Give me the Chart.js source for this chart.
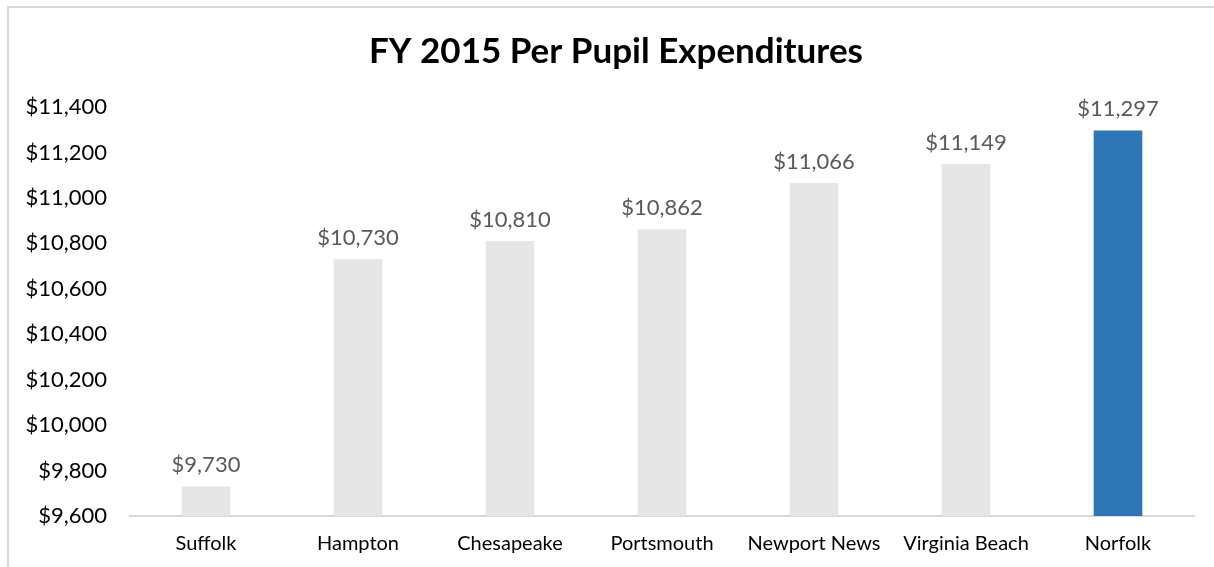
<!DOCTYPE html>
<html>
<head>
<meta charset="utf-8">
<script src="https://cdn.jsdelivr.net/npm/chart.js@4"></script>
<style>
  html, body { margin: 0; padding: 0; background: #fff; }
  #wrap { width: 1214px; height: 567px; }
</style>
</head>
<body>
<div id="wrap"><canvas id="grafico"></canvas></div>
<script>
// dados
var cidades = ['Suffolk', 'Hampton', 'Chesapeake', 'Portsmouth', 'Newport News', 'Virginia Beach', 'Norfolk'];
var gastos = [9730, 10730, 10810, 10862, 11066, 11149, 11297];
var cores = ['#e6e6e6', '#e6e6e6', '#e6e6e6', '#e6e6e6', '#e6e6e6', '#e6e6e6', '#2e75b6'];

function dinheiro(v) {
    return '$' + Number(v).toLocaleString('en-US');
}

// moldura cinza (só topo e esquerda aparecem no recorte)
var moldura = {
    id: 'moldura',
    beforeDraw: function(chart) {
        var ctx = chart.ctx;
        ctx.save();
        ctx.strokeStyle = '#d9d9d9';
        ctx.lineWidth = 2;
        ctx.beginPath();
        ctx.moveTo(8, chart.height);
        ctx.lineTo(8, 7);
        ctx.lineTo(chart.width, 7);
        ctx.stroke();
        ctx.restore();
    },
    // desloca o título um pouco para a direita, como no original
    afterLayout: function(chart) {
        if (chart.titleBlock) {
            chart.titleBlock.left = 38;
            chart.titleBlock.width = chart.titleBlock.right - chart.titleBlock.left;
        }
    }
};

// rótulos de valor acima das barras
var rotulos = {
    id: 'rotulos',
    afterDatasetsDraw: function(chart) {
        var ctx = chart.ctx;
        var meta = chart.getDatasetMeta(0);
        ctx.save();
        ctx.font = '22px Lato';
        ctx.fillStyle = '#595959';
        ctx.textAlign = 'center';
        ctx.textBaseline = 'alphabetic';
        meta.data.forEach(function(barra, i) {
            ctx.fillText(dinheiro(gastos[i]), barra.x, barra.y - 14);
        });
        ctx.restore();
    }
};

new Chart(document.getElementById('grafico').getContext('2d'), {
    type: 'bar',
    data: {
        labels: cidades,
        datasets: [{
            data: gastos,
            backgroundColor: cores,
            borderWidth: 0,
            barPercentage: 0.32,
            categoryPercentage: 1
        }]
    },
    options: {
        responsive: true,
        maintainAspectRatio: false,
        animation: false,
        layout: { padding: { top: 0, right: 20, bottom: -5, left: 0 } },
        plugins: {
            legend: { display: false },
            tooltip: { enabled: false },
            title: {
                display: true,
                text: 'FY 2015 Per Pupil Expenditures',
                color: '#000',
                font: { family: 'Lato', size: 35, weight: 'bold' },
                padding: { top: 31, bottom: 34 }
            }
        },
        scales: {
            x: {
                grid: { display: false, drawTicks: false },
                border: { display: true, color: '#d9d9d9', width: 2 },
                ticks: { color: '#000', font: { family: 'Lato', size: 20 }, padding: 16, maxRotation: 0 }
            },
            y: {
                min: 9600,
                max: 11400,
                grid: { display: false, drawTicks: false },
                border: { display: false },
                ticks: {
                    stepSize: 200,
                    color: '#000',
                    padding: 23,
                    font: { family: 'Lato', size: 22 },
                    callback: function(v) { return dinheiro(v); }
                },
                afterFit: function(escala) { escala.width = 130; }
            }
        }
    },
    plugins: [moldura, rotulos]
});
</script>
</body>
</html>
